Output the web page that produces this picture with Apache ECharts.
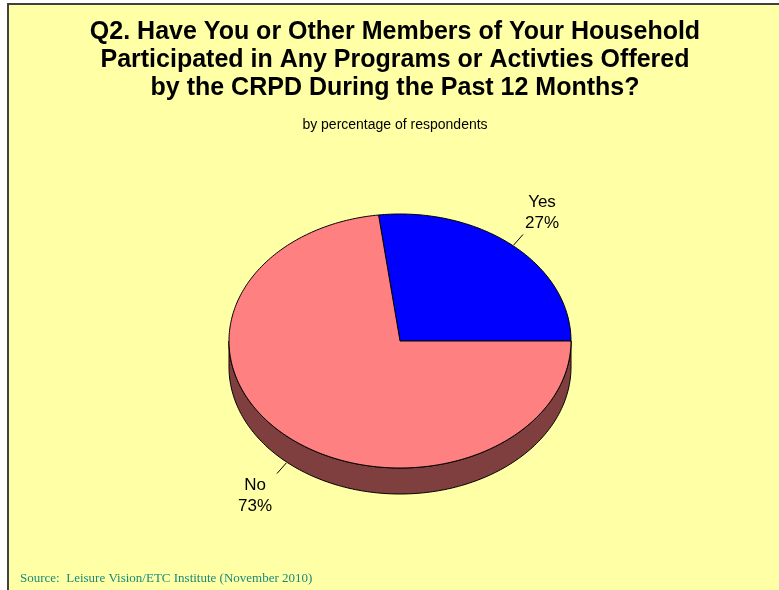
<!DOCTYPE html>
<html>
<head>
<meta charset="utf-8">
<script src="https://cdn.jsdelivr.net/npm/echarts@6/dist/echarts.min.js"></script>
<style>
html,body{margin:0;padding:0;background:#ffffff;}
#chart{width:779px;height:590px;}
</style>
</head>
<body>
<div id="chart"></div>
<script>
// ---- data ----
const categories = ['Yes', 'No'];
const values = [27, 73];
const percentLabels = ['27%', '73%'];
const sliceColors = ['#0000FF', '#FF8080'];
const sideColors = ['#00007F', '#7F3F3F'];
const titleText = 'Q2. Have You or Other Members of Your Household\nParticipated in Any Programs or Activties Offered\nby the CRPD During the Past 12 Months?';
const subtitleText = 'by percentage of respondents';
const sourceText = 'Source:  Leisure Vision/ETC Institute (November 2010)';

// ---- geometry (layout) ----
const CX = 400, CY = 341, RX = 171, RY = 127, DEPTH = 26, START = 0;
const total = values.reduce((a, b) => a + b, 0);

function angles(i) {
  let s = 0;
  for (let j = 0; j < i; j++) s += values[j];
  return [START + s / total * 360, START + (s + values[i]) / total * 360];
}
function pt(a, dy) {
  const r = a * Math.PI / 180;
  return [CX + RX * Math.cos(r), CY - RY * Math.sin(r) + (dy || 0)];
}
function arc(a1, a2, dy) {
  const pts = [];
  const n = Math.max(2, Math.ceil(Math.abs(a2 - a1)));
  for (let k = 0; k <= n; k++) pts.push(pt(a1 + (a2 - a1) * k / n, dy));
  return pts;
}

function renderSide(params, api) {
  const i = params.dataIndex;
  const [a1, a2] = angles(i);
  const children = [];
  [[180, 360], [540, 720]].forEach(([lo, hi]) => {
    const s = Math.max(a1, lo), e = Math.min(a2, hi);
    if (e > s) {
      const top = arc(s, e, 0);
      const bot = arc(e, s, DEPTH);
      children.push({
        type: 'polygon',
        shape: { points: top.concat(bot) },
        style: { fill: sideColors[i], stroke: '#000000', lineWidth: 1 }
      });
    }
  });
  return { type: 'group', children: children };
}

function renderTop(params, api) {
  const i = params.dataIndex;
  const [a1, a2] = angles(i);
  const pts = [[CX, CY]].concat(arc(a1, a2, 0));
  const children = [{
    type: 'polygon',
    shape: { points: pts },
    style: { fill: sliceColors[i], stroke: '#000000', lineWidth: 1 }
  }];
  const m = (a1 + a2) / 2;
  const r = m * Math.PI / 180;
  const c = Math.cos(r), s = Math.sin(r);
  const base = pt(m, s < 0 ? DEPTH : 0);
  const start = [base[0] + c * 1, base[1] - s * 1];
  const end = [base[0] + c * 15, base[1] - s * 15];
  children.push({
    type: 'line',
    shape: { x1: start[0], y1: start[1], x2: end[0], y2: end[1] },
    style: { stroke: '#000000', lineWidth: 1 }
  });
  children.push({
    type: 'text',
    style: {
      text: categories[i] + '\n' + percentLabels[i],
      x: end[0] + (c >= 0 ? 19 : -22),
      y: s >= 0 ? end[1] - 1 : end[1] + 1,
      align: 'center',
      verticalAlign: s >= 0 ? 'bottom' : 'top',
      font: '17px "Liberation Sans", Arial, sans-serif',
      lineHeight: 21,
      fill: '#000000'
    }
  });
  return { type: 'group', children: children };
}

const seriesData = values.map((v, i) => ({ name: categories[i], value: v }));

const chart = echarts.init(document.getElementById('chart'), null, { renderer: 'canvas' });
chart.setOption({
  backgroundColor: '#ffffff',
  animation: false,
  title: [
    {
      text: titleText,
      left: 390,
      top: 13,
      textAlign: 'center',
      textStyle: {
        fontFamily: '"Liberation Sans", Arial, sans-serif',
        fontWeight: 'bold',
        fontSize: 25,
        lineHeight: 28,
        color: '#000000'
      }
    },
    {
      text: subtitleText,
      left: 390,
      top: 113,
      textAlign: 'center',
      textStyle: {
        fontFamily: '"Liberation Sans", Arial, sans-serif',
        fontWeight: 'normal',
        fontSize: 14,
        color: '#000000'
      }
    }
  ],
  graphic: [
    {
      type: 'rect',
      z: -10,
      shape: { x: 8, y: 4, width: 800, height: 620 },
      style: { fill: '#FFFFA6', stroke: '#404040', lineWidth: 2 }
    },
    {
      type: 'text',
      left: 20,
      top: 572,
      style: {
        text: sourceText,
        font: '13px "Liberation Serif", "Times New Roman", serif',
        fill: '#1A8A7A'
      }
    }
  ],
  series: [
    {
      type: 'custom',
      coordinateSystem: 'none',
      z: 1,
      data: seriesData,
      renderItem: renderSide
    },
    {
      type: 'custom',
      coordinateSystem: 'none',
      z: 2,
      data: seriesData,
      renderItem: renderTop
    }
  ]
});
</script>
</body>
</html>
